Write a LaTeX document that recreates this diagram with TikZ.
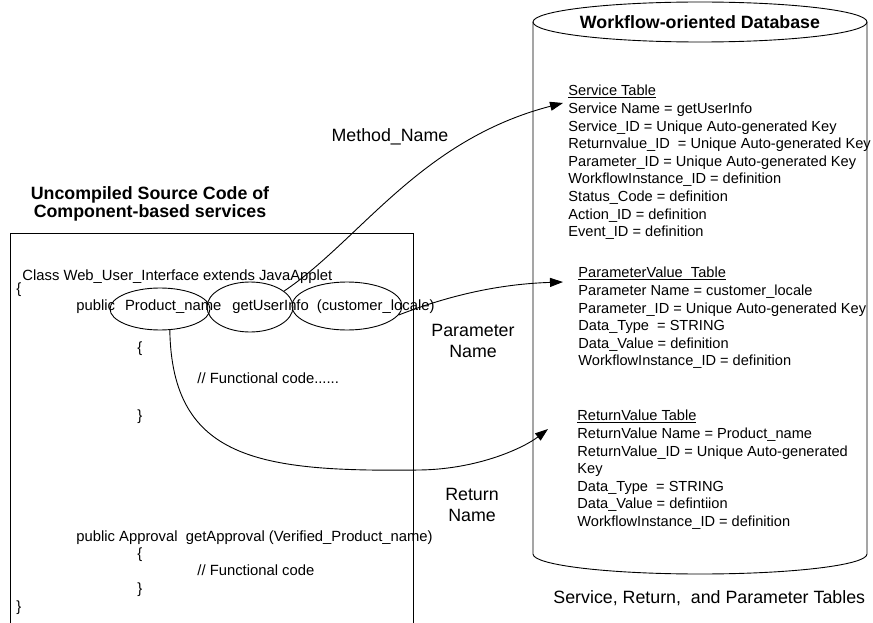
\documentclass[tikz,border=0pt]{standalone}
\usepackage{fontspec}
\setmainfont{Liberation Sans}
\usetikzlibrary{shapes.geometric,arrows.meta}

\begin{document}
\begin{tikzpicture}[x=1pt,y=-1pt,
  line width=0.9pt,
  codeline/.style={anchor=base west, inner sep=0pt, font=\fontsize{14.8}{17.5}\selectfont},
  tablebox/.style={anchor=north west, inner sep=0pt, align=left, font=\fontsize{14.6}{17.6}\selectfont},
  tagtext/.style={inner sep=0pt, align=center, font=\fontsize{17.8}{21}\selectfont},
  heading/.style={inner sep=0pt, align=center, font=\bfseries\fontsize{17.8}{18.5}\selectfont},
  ring/.style={draw, ellipse, inner sep=0pt},
  flow/.style={-{Triangle[length=13pt,width=9pt]}},
]
\useasboundingbox (0,0) rectangle (873,623);

% database cylinder
\draw (700,22) ellipse [x radius=167, y radius=20];
\draw (533,22) -- (533,554) arc[start angle=180, end angle=0, x radius=167, y radius=20] -- (867,22);
\node[heading] (dbtitle) at (700,22) {Workflow-oriented Database};

% tables inside the database
\node[tablebox] (svc) at (568,84.8) {\underline{Service Table}\\
  Service Name = getUserInfo\\
  Service\_ID = Unique Auto-generated Key\\
  Returnvalue\_ID\ \ = Unique Auto-generated Key\\
  Parameter\_ID = Unique Auto-generated Key\\
  WorkflowInstance\_ID = definition\\
  Status\_Code = definition\\
  Action\_ID = definition\\
  Event\_ID = definition};

\node[tablebox] (par) at (578,266.8) {\underline{ParameterValue\ \ Table}\\
  Parameter Name = customer\_locale\\
  Parameter\_ID = Unique Auto-generated Key\\
  Data\_Type\ \ = STRING\\
  Data\_Value = definition\\
  WorkflowInstance\_ID = definition};

\node[tablebox] (ret) at (577,409.8) {\underline{ReturnValue Table}\\
  ReturnValue Name = Product\_name\\
  ReturnValue\_ID = Unique Auto-generated\\
  Key\\
  Data\_Type\ \ = STRING\\
  Data\_Value = defintiion\\
  WorkflowInstance\_ID = definition};

\node[tagtext, anchor=west] (caption) at (553,598) {Service, Return,\ \ and Parameter Tables};

% source code panel
\node[heading] (srctitle) at (150,204) {Uncompiled Source Code of\\Component-based services};
\draw (10,626) -- (10,233) -- (413,233) -- (413,626);

\node[codeline] (cls) at (22,280) {Class Web\_User\_Interface extends JavaApplet};
\node[codeline] (ob1) at (16,293) {\{};
\node[codeline] (pub1) at (76,310) {public\hspace{10pt}Product\_name\hspace{11pt}getUserInfo\hspace{8pt}(customer\_locale)};
\node[codeline] (ob2) at (137,352) {\{};
\node[codeline] (fc1) at (197,383) {// Functional code......};
\node[codeline] (cb2) at (137,420) {\}};
\node[codeline] (pub2) at (76,541) {public Approval\ \ getApproval (Verified\_Product\_name)};
\node[codeline] (ob3) at (137,558) {\{};
\node[codeline] (fc2) at (197,575) {// Functional code};
\node[codeline] (cb3) at (137,593) {\}};
\node[codeline] (cb1) at (16,611) {\}};

% highlighted identifiers
\node[ring, minimum width=100pt, minimum height=42pt] (e1) at (160,309) {};
\node[ring, minimum width=86pt, minimum height=50pt] (e2) at (250,307) {};
\node[ring, minimum width=110pt, minimum height=48pt] (e3) at (347,306) {};

% connector labels
\node[tagtext] (mname) at (390,137) {Method\_Name};
\node[tagtext] (pname) at (473,341) {Parameter\\Name};
\node[tagtext] (rname) at (472,505) {Return\\Name};

% arrow targets
\coordinate (svcIn) at (563,103);
\coordinate (parIn) at (563,282);
\coordinate (retIn) at (548,429);

% mappings
\draw[flow] (e2.25) .. controls (360,240) and (420,140) .. (svcIn);
\draw[flow] (e3.-10) .. controls (450,295) and (500,284) .. (parIn);
\draw[flow] (e1.-65) .. controls (172,460) and (260,472) .. (420,470)
  .. controls (480,469) and (525,447) .. (retIn);
\end{tikzpicture}
\end{document}
